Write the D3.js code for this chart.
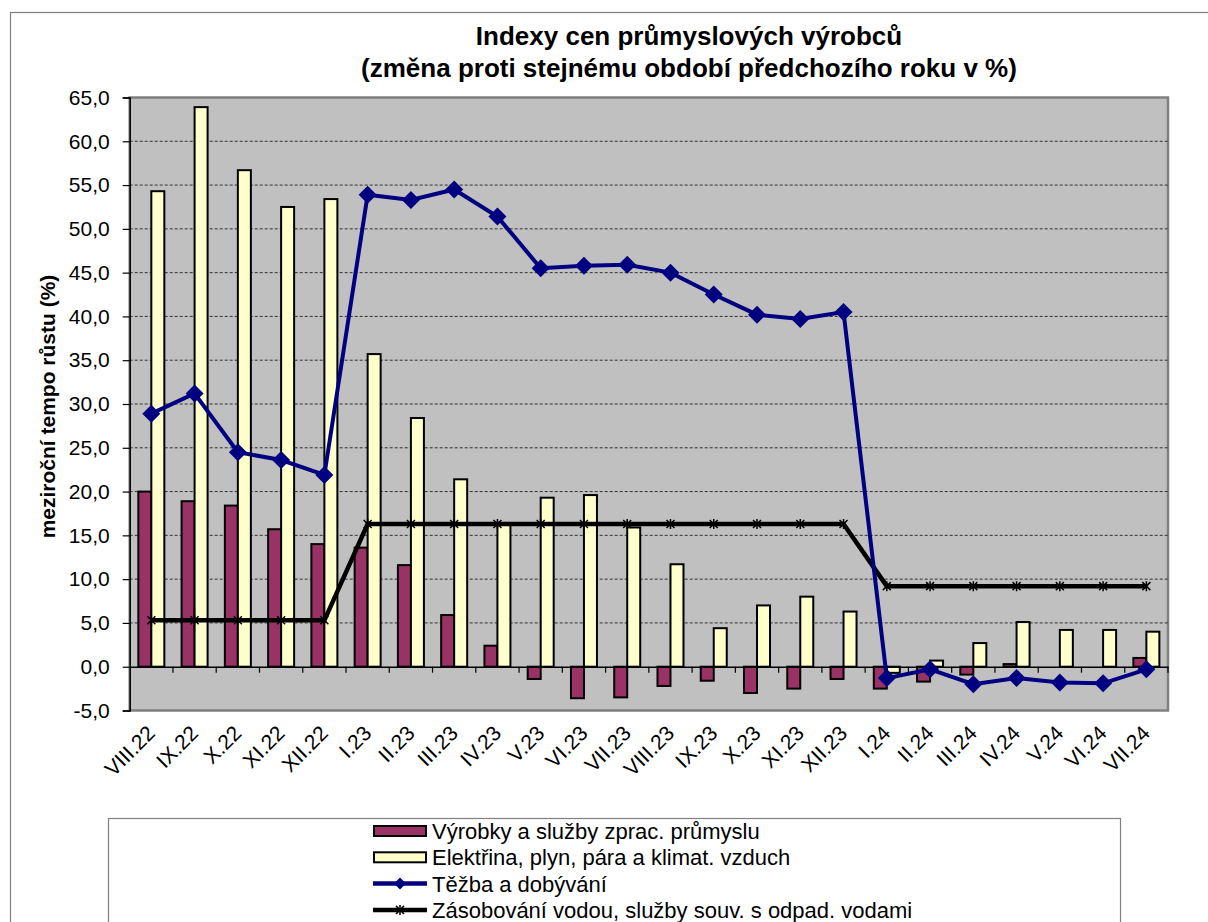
<!DOCTYPE html>
<html>
<head>
<meta charset="utf-8">
<script src="https://cdn.jsdelivr.net/npm/d3@7/dist/d3.min.js"></script>
<style>
  body { margin: 0; background: #fff; }
  svg text { font-family: Arial, "Liberation Sans", sans-serif; fill: #000; }
</style>
</head>
<body>
<div id="chart"></div>
<script>
const categories = ['VIII.22', 'IX.22', 'X.22', 'XI.22', 'XII.22', 'I.23', 'II.23', 'III.23', 'IV.23', 'V.23',
  'VI.23', 'VII.23', 'VIII.23', 'IX.23', 'X.23', 'XI.23', 'XII.23', 'I.24', 'II.24', 'III.24', 'IV.24', 'V.24',
  'VI.24', 'VII.24'];
const vyrobky = [20.0, 18.9, 18.4, 15.7, 14.0, 13.6, 11.6, 5.9, 2.4, -1.4, -3.6, -3.5, -2.2, -1.6, -3.0, -2.5,
  -1.4, -2.5, -1.7, -0.9, 0.3, 0.0, 0.0, 1.0];
const elektrina = [54.3, 63.9, 56.7, 52.5, 53.4, 35.7, 28.4, 21.4, 16.2, 19.3, 19.6, 15.9, 11.7, 4.4, 7.0, 8.0,
  6.3, -0.7, 0.7, 2.7, 5.1, 4.2, 4.2, 4.0];
const tezba = [28.9, 31.2, 24.5, 23.6, 21.9, 53.9, 53.3, 54.5, 51.4, 45.5, 45.8, 45.9, 45.0, 42.5, 40.2, 39.7,
  40.5, -1.3, -0.3, -2.0, -1.3, -1.8, -1.9, -0.3];
const zasobovani = [5.3, 5.3, 5.3, 5.3, 5.3, 16.3, 16.3, 16.3, 16.3, 16.3, 16.3, 16.3, 16.3, 16.3, 16.3, 16.3,
  16.3, 9.2, 9.2, 9.2, 9.2, 9.2, 9.2, 9.2];
const yTicks = [-5, 0, 5, 10, 15, 20, 25, 30, 35, 40, 45, 50, 55, 60, 65];
const seriesNames = ['Výrobky a služby zprac. průmyslu', 'Elektřina, plyn, pára a klimat. vzduch',
  'Těžba a dobývání', 'Zásobování vodou, služby souv. s odpad. vodami'];
const titleLines = ['Indexy cen průmyslových výrobců', '(změna proti stejnému období předchozího roku v %)'];
const yTitle = 'meziroční tempo růstu (%)';

const width = 1208;
const height = 922;
const plot = { left: 129.7, right: 1168, top: 97.5, bottom: 710.5 };
const purple = '#993366';
const yellow = '#FFFFCC';
const navy = '#000080';

const svg = d3.select('#chart')
  .append('svg')
  .attr('width', width)
  .attr('height', height);

// outer chart frame
svg.append('rect')
  .attr('x', 10.5).attr('y', 12.5)
  .attr('width', 1240).attr('height', 960)
  .attr('fill', '#fff')
  .attr('stroke', '#808080')
  .attr('stroke-width', 1.2);

const x = d3.scaleBand()
  .domain(categories)
  .range([plot.left, plot.right])
  .padding(0);

const y = d3.scaleLinear()
  .domain([-5, 65])
  .range([plot.bottom, plot.top]);

const fmt = d => d3.format('.1f')(d).replace('.', ',').replace('−', '-');

// plot area
svg.append('rect')
  .attr('x', plot.left).attr('y', plot.top)
  .attr('width', plot.right - plot.left).attr('height', plot.bottom - plot.top)
  .attr('fill', '#C0C0C0')
  .attr('stroke', '#808080')
  .attr('stroke-width', 2.5);

// gridlines
svg.append('g')
  .selectAll('line')
  .data(yTicks.filter(d => d > 0 && d < 65))
  .enter()
  .append('line')
  .attr('x1', plot.left).attr('x2', plot.right)
  .attr('y1', d => y(d)).attr('y2', d => y(d))
  .attr('stroke', '#333')
  .attr('stroke-width', 1)
  .attr('stroke-dasharray', '3,2');

// bars
const bw = 13;
const groups = svg.append('g')
  .selectAll('g')
  .data(categories)
  .enter()
  .append('g')
  .attr('transform', d => `translate(${x(d) + x.bandwidth() / 2},0)`);

groups.append('rect')
  .attr('x', -bw)
  .attr('y', (d, i) => y(Math.max(0, vyrobky[i])))
  .attr('width', bw)
  .attr('height', (d, i) => Math.abs(y(vyrobky[i]) - y(0)))
  .attr('fill', purple)
  .attr('stroke', '#000')
  .attr('stroke-width', 2);

groups.append('rect')
  .attr('x', 0)
  .attr('y', (d, i) => y(Math.max(0, elektrina[i])))
  .attr('width', bw)
  .attr('height', (d, i) => Math.abs(y(elektrina[i]) - y(0)))
  .attr('fill', yellow)
  .attr('stroke', '#000')
  .attr('stroke-width', 2);

// y axis
const yAxis = svg.append('g')
  .attr('transform', `translate(${plot.left},0)`)
  .call(d3.axisLeft(y).tickValues(yTicks).tickSize(7).tickPadding(13).tickFormat(fmt));
yAxis.select('.domain').attr('stroke', '#000').attr('stroke-width', 1.5);
yAxis.selectAll('.tick line').attr('stroke', '#000').attr('stroke-width', 1.2);
yAxis.selectAll('.tick text')
  .style('font-size', '21px')
  .style('font-family', 'Arial, "Liberation Sans", sans-serif');

// x axis at zero
const xAxis = svg.append('g')
  .attr('transform', `translate(0,${y(0)})`)
  .call(d3.axisBottom(x).tickSize(0).tickFormat(''));
xAxis.select('.domain').attr('stroke', '#000').attr('stroke-width', 1.5);
xAxis.selectAll('.tick').remove();

xAxis.selectAll('.boundary')
  .data(categories.slice(1).concat(['end']))
  .enter()
  .append('line')
  .attr('class', 'boundary')
  .attr('x1', d => d === 'end' ? x.range()[1] : x(d))
  .attr('x2', d => d === 'end' ? x.range()[1] : x(d))
  .attr('y1', 0).attr('y2', 6)
  .attr('stroke', '#000')
  .attr('stroke-width', 1.2);

// category labels
svg.append('g')
  .selectAll('text')
  .data(categories)
  .enter()
  .append('text')
  .attr('transform', d => `translate(${x(d) + x.bandwidth() / 2 + 5},${plot.bottom + 24}) rotate(-45)`)
  .attr('text-anchor', 'end')
  .style('font-size', '21px')
  .text(d => d);

// lines
const line = d3.line()
  .x((d, i) => x(categories[i]) + x.bandwidth() / 2)
  .y(d => y(d));

const starPath = 'M-4,-4L4,4M-4,4L4,-4M0,-5L0,5';
const diamondPath = s => `M0,${-s}L${s},0L0,${s}L${-s},0Z`;

svg.append('path')
  .datum(zasobovani)
  .attr('d', line)
  .attr('fill', 'none')
  .attr('stroke', '#000')
  .attr('stroke-width', 4.5);

svg.append('g')
  .selectAll('path')
  .data(zasobovani)
  .enter()
  .append('path')
  .attr('transform', (d, i) => `translate(${x(categories[i]) + x.bandwidth() / 2},${y(d)})`)
  .attr('d', starPath)
  .attr('stroke', '#000')
  .attr('stroke-width', 1.5);

svg.append('path')
  .datum(tezba)
  .attr('d', line)
  .attr('fill', 'none')
  .attr('stroke', navy)
  .attr('stroke-width', 4);

svg.append('g')
  .selectAll('path')
  .data(tezba)
  .enter()
  .append('path')
  .attr('transform', (d, i) => `translate(${x(categories[i]) + x.bandwidth() / 2},${y(d)})`)
  .attr('d', diamondPath(9))
  .attr('fill', navy);

// titles
svg.append('g')
  .selectAll('text')
  .data(titleLines)
  .enter()
  .append('text')
  .attr('x', 689)
  .attr('y', (d, i) => 45 + i * 32)
  .attr('text-anchor', 'middle')
  .style('font-size', '26px')
  .style('font-weight', 'bold')
  .text(d => d);

svg.append('text')
  .attr('transform', `translate(55,${(268 + 545) / 2}) rotate(-90)`)
  .attr('text-anchor', 'middle')
  .style('font-size', '21px')
  .style('font-weight', 'bold')
  .text(yTitle);

// legend
svg.append('rect')
  .attr('x', 108.5).attr('y', 818.5)
  .attr('width', 1012).attr('height', 160)
  .attr('fill', '#fff')
  .attr('stroke', '#808080')
  .attr('stroke-width', 1.2);

const legend = svg.append('g')
  .selectAll('g')
  .data(seriesNames)
  .enter()
  .append('g')
  .attr('transform', (d, i) => `translate(373,${831 + i * 26.3})`);

legend.filter((d, i) => i < 2)
  .append('rect')
  .attr('x', 1).attr('y', -5)
  .attr('width', 52).attr('height', 10)
  .attr('fill', (d, i) => i === 0 ? purple : yellow)
  .attr('stroke', '#000')
  .attr('stroke-width', 2);

legend.filter((d, i) => i >= 2)
  .append('line')
  .attr('x1', 0).attr('x2', 54)
  .attr('y1', 0).attr('y2', 0)
  .attr('stroke', (d, i) => i === 0 ? navy : '#000')
  .attr('stroke-width', 4.5);

legend.filter((d, i) => i === 2)
  .append('path')
  .attr('transform', 'translate(27,0)')
  .attr('d', diamondPath(6))
  .attr('fill', navy);

legend.filter((d, i) => i === 3)
  .append('path')
  .attr('transform', 'translate(27,0)')
  .attr('d', starPath)
  .attr('stroke', '#000')
  .attr('stroke-width', 1.5);

legend.append('text')
  .attr('x', 59)
  .attr('y', 0)
  .attr('dy', '0.36em')
  .style('font-size', '22px')
  .text(d => d);
</script>
</body>
</html>
